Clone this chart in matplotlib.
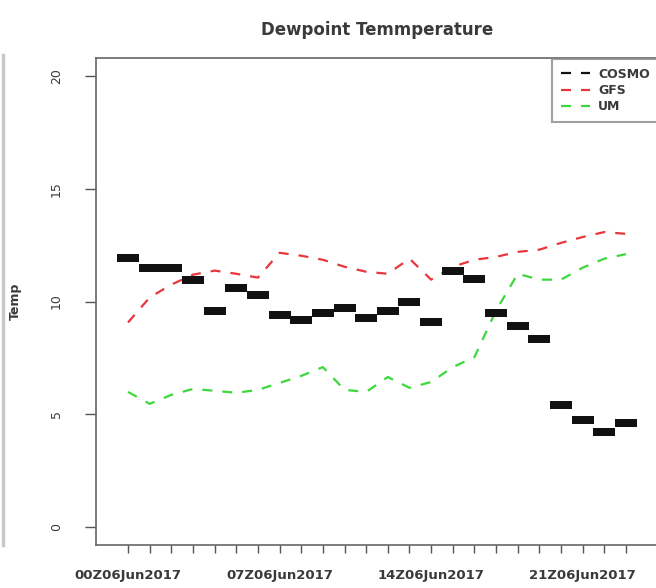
import matplotlib
matplotlib.use("Agg")
import matplotlib.pyplot as plt
from matplotlib.lines import Line2D
import numpy as np

plt.rcParams['font.family'] = ['DejaVu Sans']

# Hourly dewpoint temperature, 06 Jun 2017, 00Z-23Z
hours = list(range(24))
time_labels = ["00Z06Jun2017", "07Z06Jun2017", "14Z06Jun2017", "21Z06Jun2017"]
label_hours = [0, 7, 14, 21]

cosmo = [11.94, 11.5, 11.5, 10.97, 9.6, 10.6, 10.3, 9.38, 9.16, 9.5, 9.7, 9.25,
         9.6, 10.0, 9.07, 11.37, 11.0, 9.5, 8.9, 8.33, 5.42, 4.76, 4.23, 4.63]
gfs = [9.07, 10.18, 10.75, 11.19, 11.37, 11.23, 11.06, 12.16, 12.03, 11.85, 11.54, 11.32,
       11.23, 11.9, 10.97, 11.54, 11.85, 11.98, 12.2, 12.3, 12.6, 12.86, 13.08, 13.0]
um = [5.99, 5.46, 5.86, 6.12, 6.04, 5.95, 6.08, 6.39, 6.7, 7.09, 6.08, 5.99,
      6.65, 6.17, 6.43, 7.09, 7.53, 9.6, 11.23, 10.97, 10.97, 11.5, 11.9, 12.1]
series_names = ["COSMO", "GFS", "UM"]
y_ticks = [0, 5, 10, 15, 20]

W, H = 656, 588
fig = plt.figure(figsize=(W / 100, H / 100), dpi=100)
left, right, top, bottom = 96, 658, 58, 545
ax = fig.add_axes([left / W, 1 - bottom / H, (right - left) / W, (bottom - top) / H])

red = "#e8363c"
green = "#3cd83c"
txt = "#3a3a3a"
dash = (0, (4.5, 4.5))

ax.plot(hours, gfs, color=red, lw=1.6, linestyle=dash)
ax.plot(hours, um, color=green, lw=1.6, linestyle=dash)
bar = [(-1, -0.36), (1, -0.36), (1, 0.36), (-1, 0.36), (-1, -0.36)]
ax.plot(hours, cosmo, linestyle="none", marker=bar, markersize=16,
        color="#111111", markeredgewidth=0)

ax.set_xlim(-1.48, 24.48)
ax.set_ylim(-0.8, 20.8)

# one tick per hour, labelled every seventh hour
x_labels = [time_labels[label_hours.index(h)] if h in label_hours else "" for h in hours]
ax.set_xticks(hours)
ax.set_xticklabels(x_labels, fontsize=9.5, fontweight="bold", color=txt)
ax.tick_params(axis="x", length=6, width=1, color="#555555", pad=11)

ax.set_yticks(y_ticks)
ax.set_yticklabels([str(v) for v in y_ticks], rotation=90, va="center",
                   fontsize=9, color=txt)
ax.tick_params(axis="y", length=8, width=1, color="#555555", pad=16)

for s in ax.spines.values():
    s.set_color("#666666")
    s.set_linewidth(1.2)

ax.set_ylabel("Temp", fontsize=9, fontweight="bold", color=txt)
ax.yaxis.set_label_coords((22 - left) / (right - left), 0.5)
fig.text((left + right) / 2 / W, 1 - 30 / H, "Dewpoint Temmperature",
         ha="center", va="center", fontsize=12, fontweight="bold", color=txt)

handles = [Line2D([], [], color="#111111", lw=1.6, linestyle=dash),
           Line2D([], [], color=red, lw=1.6, linestyle=dash),
           Line2D([], [], color=green, lw=1.6, linestyle=dash)]
leg = ax.legend(handles, series_names, loc="upper left",
                bbox_to_anchor=(552 / W, 1 - 59 / H), bbox_transform=fig.transFigure,
                prop={"size": 9, "weight": "bold"}, frameon=True, fancybox=False,
                handlelength=2.3, handletextpad=0.7, labelspacing=0.25,
                borderpad=0.7, borderaxespad=0)
leg.get_frame().set_edgecolor("#888888")
leg.get_frame().set_linewidth(1.5)
for t in leg.get_texts():
    t.set_color(txt)

# thin rule at the left edge of the figure
fig.add_artist(Line2D([3 / W, 3 / W], [1 - 55 / H, 1 - 545 / H],
                      transform=fig.transFigure, color="#c8c8c8", lw=2.5))

fig.savefig("out.png", dpi=100)
